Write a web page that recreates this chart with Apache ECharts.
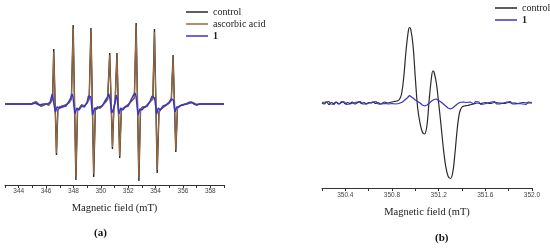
<!DOCTYPE html>
<html>
<head>
<meta charset="utf-8">
<script src="https://cdn.jsdelivr.net/npm/echarts@6/dist/echarts.min.js"></script>
<style>
  html, body { margin: 0; padding: 0; background: #fff; }
  #main { width: 550px; height: 249px; }
</style>
</head>
<body>
<div id="main"></div>
<script>
// panel (a): field in mT, signal in arbitrary units
let controlA = [
  [343.0, 0], [344.9, 0], [345.1, 1.5], [345.3, 2], [345.45, 0], [345.6, -2], [345.8, -1.5], [346.0, 0], [346.2, -1], [346.35, 2], [346.48, 6],
  [346.56, 55], [346.76, -51], [346.86, -6], [347.0, -3], [347.2, -2], [347.45, -1], [347.65, 1], [347.85, 5],
  [347.98, 79], [348.18, -76], [348.3, -6], [348.45, -4], [348.6, -1], [348.8, -2], [349.0, 1], [349.15, 5],
  [349.28, 76], [349.48, -73], [349.6, -6], [349.75, -3], [349.95, -4], [350.15, -1], [350.35, 2], [350.5, 5],
  [350.65, 51], [350.85, -45], [350.95, -5], [351.05, 4],
  [351.18, 51], [351.38, -54], [351.5, -6], [351.65, -4], [351.85, -2], [352.05, 0], [352.25, 3], [352.45, 6],
  [352.58, 81], [352.78, -77], [352.9, -6], [353.05, -3], [353.25, -3], [353.45, 0], [353.65, 3], [353.8, 5],
  [353.92, 75], [354.12, -69], [354.25, -8], [354.4, -5], [354.6, -3], [354.8, -1], [355.0, 1], [355.15, 4],
  [355.28, 49], [355.48, -48], [355.6, -4], [355.75, -2], [355.95, -1], [356.2, 0], [356.4, 1.5], [356.6, 2], [356.8, 0], [357.0, -1], [357.2, 0], [359.0, 0]
];
let ascorbicA = [
  [343.0, 0], [344.9, 0], [345.1, 1.5], [345.3, 2], [345.45, 0], [345.6, -2], [345.8, -1.5], [346.0, 0], [346.2, -1], [346.35, 2], [346.48, 6],
  [346.56, 52], [346.76, -49], [346.86, -6], [347.0, -3], [347.2, -2], [347.45, -1], [347.65, 1], [347.85, 5],
  [347.98, 76], [348.18, -73], [348.3, -6], [348.45, -4], [348.6, -1], [348.8, -2], [349.0, 1], [349.15, 5],
  [349.28, 73], [349.48, -70], [349.6, -6], [349.75, -3], [349.95, -4], [350.15, -1], [350.35, 2], [350.5, 5],
  [350.65, 49], [350.85, -43], [350.95, -5], [351.05, 4],
  [351.18, 49], [351.38, -52], [351.5, -6], [351.65, -4], [351.85, -2], [352.05, 0], [352.25, 3], [352.45, 6],
  [352.58, 78], [352.78, -74], [352.9, -6], [353.05, -3], [353.25, -3], [353.45, 0], [353.65, 3], [353.8, 5],
  [353.92, 72], [354.12, -66], [354.25, -8], [354.4, -5], [354.6, -3], [354.8, -1], [355.0, 1], [355.15, 4],
  [355.28, 47], [355.48, -46], [355.6, -4], [355.75, -2], [355.95, -1], [356.2, 0], [356.4, 1.5], [356.6, 2], [356.8, 0], [357.0, -1], [357.2, 0], [359.0, 0]
];
let sampleA = [
  [343.0, 0], [345.0, 0], [345.2, 1], [345.5, -1], [345.8, 0], [346.1, 0], [346.3, 2], [346.45, 10], [346.55, 8], [346.68, -8], [346.8, -3],
  [347.0, -4], [347.2, -3], [347.45, -2], [347.65, 2], [347.8, 6], [347.9, 10], [347.97, 7], [348.1, -10], [348.25, -4], [348.4, -6],
  [348.6, -2], [348.8, -3], [349.0, 2], [349.1, 8], [349.2, 10], [349.27, 7], [349.4, -11], [349.55, -4], [349.7, -5], [349.9, -3],
  [350.1, -2], [350.3, 3], [350.45, 6], [350.58, 10], [350.66, 6], [350.8, -9], [350.95, -4], [351.05, 2], [351.12, 9], [351.2, 5],
  [351.32, -10], [351.45, -4], [351.6, -6], [351.8, -3], [352.0, -2], [352.2, 4], [352.35, 8], [352.5, 11], [352.58, 7], [352.72, -11],
  [352.85, -5], [353.0, -6], [353.2, -3], [353.4, -2], [353.6, 3], [353.75, 8], [353.85, 9], [353.93, 6], [354.08, -10], [354.2, -4],
  [354.35, -6], [354.55, -2], [354.75, -1], [355.0, 2], [355.15, 5], [355.23, 7], [355.3, 4], [355.42, -8], [355.55, -3], [355.7, -3],
  [355.9, -1], [356.3, 0], [356.5, 1], [356.7, 1.5], [356.9, 0], [357.1, -0.5], [357.3, 0], [359.0, 0]
];

// panel (b)
let controlB = [
  [350.20, 0], [350.22, -1], [350.24, 1], [350.26, -1.5], [350.28, 0.5], [350.30, -0.5], [350.32, 1], [350.34, -1], [350.36, 0],
  [350.38, 1], [350.40, -1], [350.42, 0.5], [350.44, -0.5], [350.46, 1], [350.48, -1], [350.50, 0], [350.52, 1], [350.54, -0.5],
  [350.56, 0.5], [350.58, -1], [350.60, 0.5], [350.62, 0], [350.64, 1], [350.66, -0.5], [350.68, 0.5], [350.70, -1], [350.72, 0],
  [350.74, 1], [350.76, 0], [350.78, 0.5], [350.80, 1], [350.82, 1.5], [350.84, 2], [350.86, 3], [350.88, 8], [350.90, 25],
  [350.92, 52], [350.94, 72], [350.95, 75.5], [350.96, 74], [350.98, 58], [351.00, 25], [351.02, -5], [351.04, -20], [351.06, -29],
  [351.08, -31], [351.10, -22], [351.12, 5], [351.14, 27], [351.15, 32], [351.16, 31], [351.18, 20], [351.20, 0], [351.22, -22],
  [351.24, -45], [351.26, -63], [351.28, -73], [351.30, -75.5], [351.32, -70], [351.34, -50], [351.36, -25], [351.38, -9],
  [351.40, -4], [351.42, -3], [351.45, -2.5], [351.48, -1.5], [351.50, -1], [351.53, 0], [351.56, -0.5], [351.60, 0.5],
  [351.64, -0.5], [351.68, 0.5], [351.72, 0], [351.76, -0.5], [351.80, 0.5], [351.84, 0], [351.88, -0.5], [351.92, 0.5],
  [351.96, 0], [352.00, 0]
];
let sampleB = [
  [350.20, 0.5], [350.215, -1.5], [350.23, 1], [350.245, -0.5], [350.26, 1.5], [350.275, -1], [350.29, 0.5], [350.305, -1.5],
  [350.32, 1], [350.335, 0], [350.35, -1], [350.365, 1.5], [350.38, -0.5], [350.395, 1], [350.41, -1.5], [350.425, 0.5],
  [350.44, -1], [350.455, 1], [350.47, 0], [350.485, -1.5], [350.50, 1], [350.515, -0.5], [350.53, 1.5], [350.545, -1],
  [350.56, 0.5], [350.575, -1], [350.59, 1], [350.605, 0], [350.62, -1.5], [350.635, 1], [350.65, -0.5], [350.665, 1.5],
  [350.68, -1], [350.695, 0.5], [350.71, -1], [350.725, 1], [350.74, -0.5], [350.755, 1], [350.77, -1], [350.785, 0.5],
  [350.80, -0.5], [350.815, 1], [350.83, -1], [350.845, 0.5], [350.86, -0.5], [350.875, 0.5], [350.89, 1], [350.91, 3],
  [350.93, 5], [350.95, 7.5], [350.965, 6], [350.98, 5], [351.00, 3], [351.02, 1.5], [351.04, 0], [351.06, -2], [351.08, -3],
  [351.10, -2], [351.12, 0], [351.14, 2], [351.16, 3.5], [351.18, 4], [351.20, 2.5], [351.22, 1], [351.24, -1], [351.26, -3],
  [351.28, -5], [351.30, -6], [351.32, -5], [351.34, -3], [351.36, -1], [351.38, 0.5], [351.395, -0.5], [351.41, 1],
  [351.425, -1], [351.44, 0.5], [351.455, -1.5], [351.47, 1], [351.485, 0], [351.50, -1], [351.515, 1.5], [351.53, -0.5],
  [351.545, 1], [351.56, -1.5], [351.575, 0.5], [351.59, -1], [351.605, 1], [351.62, 0], [351.635, -1.5], [351.65, 1],
  [351.665, -0.5], [351.68, 1.5], [351.695, -1], [351.71, 0.5], [351.725, -1], [351.74, 1], [351.755, 0], [351.77, -1.5],
  [351.785, 1], [351.80, -0.5], [351.815, 1.5], [351.83, -1], [351.845, 0.5], [351.86, -1], [351.875, 1], [351.89, -0.5],
  [351.905, 1.5], [351.92, -1], [351.935, 0.5], [351.95, -1.5], [351.965, 1], [351.98, -0.5], [352.00, 0.5]
];

let colControl = "#2a2a2a";
let colAscorbic = "#9c6a3e";
let colSample = "#3636cc";

let chartDom = document.getElementById("main");
let myChart = echarts.init(chartDom, null, { renderer: "canvas" });

let tickLabel = {
  fontFamily: "Liberation Sans, Arial, sans-serif",
  fontSize: 6.5,
  color: "#444",
};
let nameStyle = {
  fontFamily: "Liberation Serif, Times New Roman, serif",
  fontSize: 10.5,
  color: "#222",
};
let legendText = {
  fontFamily: "Liberation Serif, Times New Roman, serif",
  fontSize: 10,
  color: "#222",
  lineHeight: 12,
  rich: { b: { fontWeight: "bold", fontFamily: "Liberation Serif, serif", fontSize: 10, color: "#222" } },
};

function line(name, data, color, xi, width, smooth, z) {
  return {
    name: name,
    type: "line",
    xAxisIndex: xi,
    yAxisIndex: xi,
    data: data,
    showSymbol: false,
    smooth: smooth,
    lineStyle: { color: color, width: width },
    itemStyle: { color: color },
    z: z,
  };
}

let option = {
  animation: false,
  grid: [
    { left: 5, top: 20, width: 219, height: 165, outerBoundsMode: "none" },
    { left: 322, top: 20, width: 210, height: 168, outerBoundsMode: "none" },
  ],
  xAxis: [
    {
      type: "value", gridIndex: 0, min: 343, max: 359, interval: 1,
      splitLine: { show: false },
      axisLine: { onZero: false, lineStyle: { color: "#333", width: 1 } },
      axisTick: { length: 3, lineStyle: { color: "#333" } },
      axisLabel: Object.assign({ margin: 3, formatter: (v) => (v % 2 === 0 ? String(v) : "") }, tickLabel),
      name: "Magnetic field (mT)", nameLocation: "middle", nameGap: 18, nameTextStyle: nameStyle,
    },
    {
      type: "value", gridIndex: 1, min: 350.2, max: 352.0, interval: 0.2,
      splitLine: { show: false },
      axisLine: { onZero: false, lineStyle: { color: "#333", width: 1 } },
      axisTick: { length: 3, lineStyle: { color: "#333" } },
      axisLabel: Object.assign({
        margin: 4,
        formatter: (v) => (Math.round(v * 10) % 4 === 0 ? v.toFixed(1) : ""),
      }, tickLabel),
      name: "Magnetic field (mT)", nameLocation: "middle", nameGap: 19, nameTextStyle: nameStyle,
    },
  ],
  yAxis: [
    { type: "value", gridIndex: 0, min: -81, max: 84, show: false },
    { type: "value", gridIndex: 1, min: -85, max: 83, show: false },
  ],
  legend: [
    {
      data: ["control", "ascorbic acid", "1"],
      orient: "vertical", left: 186, top: 6, itemGap: 0, padding: 0,
      icon: "rect", itemWidth: 22, itemHeight: 1.5,
      textStyle: legendText,
      formatter: (n) => (n === "1" ? "{b|1}" : n),
    },
    {
      data: ["control", "1"],
      orient: "vertical", left: 495, top: 2, itemGap: 0, padding: 0,
      icon: "rect", itemWidth: 22, itemHeight: 1.5,
      textStyle: legendText,
      formatter: (n) => (n === "1" ? "{b|1}" : n),
    },
  ],
  series: [
    line("control", controlA, colControl, 0, 1.4, false, 2),
    line("ascorbic acid", ascorbicA, colAscorbic, 0, 1.1, false, 3),
    line("1", sampleA, colSample, 0, 1.5, false, 4),
    line("control", controlB, colControl, 1, 1.2, 0.35, 2),
    line("1", sampleB, colSample, 1, 1.2, false, 3),
  ],
  graphic: [
    {
      type: "text", left: 94, top: 228,
      style: { text: "(a)", font: "bold 11px 'Liberation Serif', serif", fill: "#111" },
    },
    {
      type: "text", left: 435, top: 233,
      style: { text: "(b)", font: "bold 11px 'Liberation Serif', serif", fill: "#111" },
    },
  ],
};

myChart.setOption(option);
</script>
</body>
</html>
